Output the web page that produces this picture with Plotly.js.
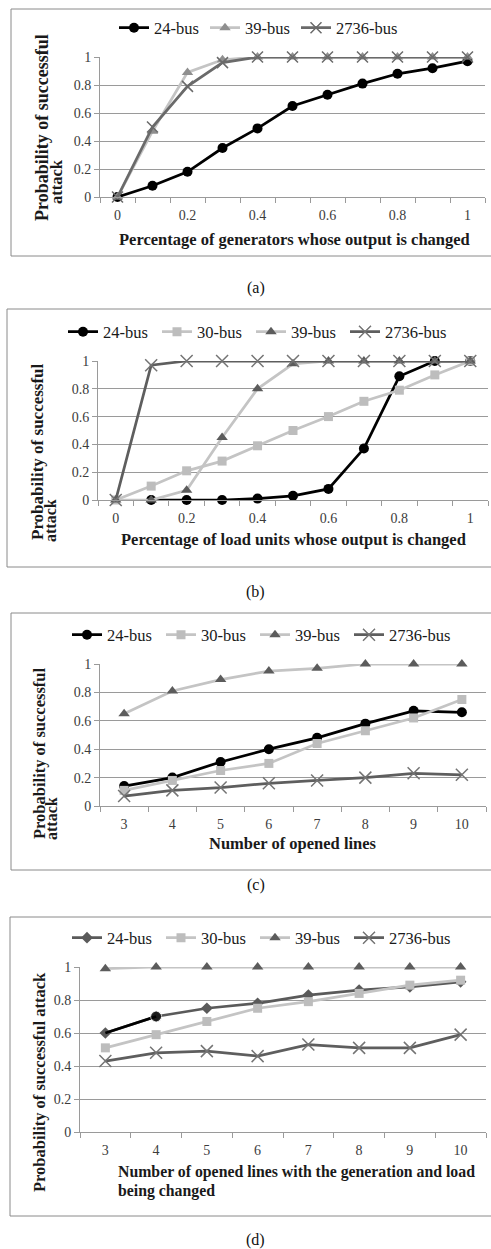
<!DOCTYPE html>
<html><head><meta charset="utf-8">
<script src="https://cdn.plot.ly/plotly-3.0.1.min.js"></script>
<style>html,body{margin:0;padding:0;background:#fff}#chart{width:491px;height:1249px}</style>
</head><body><div id="chart"></div>
<script>
// ---------------- DATA ----------------
const xPct = [0, 0.1, 0.2, 0.3, 0.4, 0.5, 0.6, 0.7, 0.8, 0.9, 1];
const xPctTicks = [0, 0.2, 0.4, 0.6, 0.8, 1];
const xLines = [3, 4, 5, 6, 7, 8, 9, 10];
const yTicks = [0, 0.2, 0.4, 0.6, 0.8, 1];
const seriesNames = ['24-bus', '30-bus', '39-bus', '2736-bus'];

const a_bus24   = [0, 0.08, 0.18, 0.35, 0.49, 0.65, 0.73, 0.81, 0.88, 0.92, 0.97];
const a_bus39   = [0, 0.47, 0.89, 0.98, 1, 1, 1, 1, 1, 1, 1];
const a_bus2736 = [0, 0.50, 0.79, 0.96, 1, 1, 1, 1, 1, 1, 1];

const b_bus24   = [null, 0, 0, 0, 0.01, 0.03, 0.08, 0.37, 0.89, 1, 1];
const b_bus30   = [0, 0.10, 0.21, 0.28, 0.39, 0.50, 0.60, 0.71, 0.79, 0.90, 1];
const b_bus39   = [0, 0, 0.07, 0.45, 0.80, 0.98, 1, 1, 1, 1, 1];
const b_bus2736 = [0, 0.97, 1, 1, 1, 1, 1, 1, 1, 1, 1];

const c_bus24   = [0.14, 0.20, 0.31, 0.40, 0.48, 0.58, 0.67, 0.66];
const c_bus30   = [0.11, 0.18, 0.25, 0.30, 0.44, 0.53, 0.62, 0.75];
const c_bus39   = [0.65, 0.81, 0.89, 0.95, 0.97, 1, 1, 1];
const c_bus2736 = [0.07, 0.11, 0.13, 0.16, 0.18, 0.20, 0.23, 0.22];

const d_bus24   = [0.60, 0.70, 0.75, 0.78, 0.83, 0.86, 0.88, 0.91];
const d_bus30   = [0.51, 0.59, 0.67, 0.75, 0.79, 0.84, 0.89, 0.92];
const d_bus39   = [0.99, 1, 1, 1, 1, 1, 1, 1];
const d_bus2736 = [0.43, 0.48, 0.49, 0.46, 0.53, 0.51, 0.51, 0.59];

const xTitles = [
  'Percentage of generators whose output is changed',
  'Percentage of load units whose output is changed',
  'Number of opened lines',
  ['Number of opened lines with the generation and load', 'being changed']
];
const yTitleLine1 = 'Probability of successful';
const yTitleLine2 = 'attack';
const yTitleFull = 'Probability of successful attack';
const captions = ['(a)', '(b)', '(c)', '(d)'];

// ---------------- HELPERS / STYLES ----------------
const W = 491, H = 1249;
const FONT = '"Liberation Serif", "Times New Roman", Times, serif';
const px = v => v / W;
const py = v => 1 - v / H;
const GRID = '#9a9a9a';

const sBlack = {line: {color: '#000000', width: 2.75}, marker: {symbol: 'circle', size: 10, color: '#000000'}};
const sTriA  = {line: {color: '#c4c4c4', width: 2.75}, marker: {symbol: 'triangle-up', size: 10, color: '#8f8f8f'}};
const sXA    = {line: {color: '#6a6a6a', width: 2.75}, marker: {symbol: 'x-thin', size: 11, color: '#6a6a6a', line: {color: '#6a6a6a', width: 1.5}}};
const sSq    = {line: {color: '#c4c4c4', width: 2.75}, marker: {symbol: 'square', size: 9, color: '#bdbdbd'}};
const sTriD  = {line: {color: '#c4c4c4', width: 2.75}, marker: {symbol: 'triangle-up', size: 10, color: '#5c5c5c'}};
const sXD    = {line: {color: '#5e5e5e', width: 2.75}, marker: {symbol: 'x-thin', size: 12, color: '#747474', line: {color: '#747474', width: 1.5}}};
const sDia   = {line: {color: '#5a5a5a', width: 2.75}, marker: {symbol: 'diamond', size: 9, color: '#5a5a5a'}};

function tr(name, x, y, st, axIdx, legendId, extra) {
  const sfx = axIdx === 1 ? '' : String(axIdx);
  return Object.assign({
    type: 'scatter', mode: 'lines+markers', name: name, x: x, y: y,
    xaxis: 'x' + sfx, yaxis: 'y' + sfx, legend: legendId,
    line: st.line, marker: st.marker, cliponaxis: false, connectgaps: false,
    hoverinfo: 'skip'
  }, extra || {});
}
const lastW = {legendwidth: 70};

const traces = [
  tr(seriesNames[0], xPct, a_bus24, sBlack, 1, 'legend'),
  tr(seriesNames[2], xPct, a_bus39, sTriA, 1, 'legend'),
  tr(seriesNames[3], xPct, a_bus2736, sXA, 1, 'legend', lastW),

  tr(seriesNames[0], xPct, b_bus24, sBlack, 2, 'legend2'),
  tr(seriesNames[1], xPct, b_bus30, sSq, 2, 'legend2'),
  tr(seriesNames[2], xPct, b_bus39, sTriD, 2, 'legend2'),
  tr(seriesNames[3], xPct, b_bus2736, sXD, 2, 'legend2', lastW),

  tr(seriesNames[0], xLines, c_bus24, sBlack, 3, 'legend3'),
  tr(seriesNames[1], xLines, c_bus30, sSq, 3, 'legend3'),
  tr(seriesNames[2], xLines, c_bus39, sTriD, 3, 'legend3'),
  tr(seriesNames[3], xLines, c_bus2736, sXD, 3, 'legend3', lastW),

  tr(seriesNames[0], xLines, d_bus24, sDia, 4, 'legend4'),
  tr(seriesNames[0], xLines.slice(0, 2), d_bus24.slice(0, 2),
     {line: {color: '#000000', width: 2.75}, marker: {symbol: 'circle', size: [0, 11], color: '#000000'}},
     4, 'legend4', {showlegend: false}),
  tr(seriesNames[1], xLines, d_bus30, sSq, 4, 'legend4'),
  tr(seriesNames[2], xLines, d_bus39, sTriD, 4, 'legend4'),
  tr(seriesNames[3], xLines, d_bus2736, sXD, 4, 'legend4', lastW)
];

// panel geometry (pixels)
const P = [
  {l: 100, r: 485, t: 57,  b: 197,  range: [-0.05, 1.05], ticks: xPctTicks, m0: -0.05, md: 0.1},
  {l: 98,  r: 488, t: 361, b: 500,  range: [-0.05, 1.05], ticks: xPctTicks, m0: -0.05, md: 0.1},
  {l: 100, r: 486, t: 664, b: 806,  range: [2.5, 10.5],   ticks: xLines,    m0: 2.5,   md: 1},
  {l: 80,  r: 486, t: 967, b: 1132, range: [2.5, 10.5],   ticks: xLines,    m0: 2.5,   md: 1}
];

const layout = {
  width: W, height: H, autosize: false,
  margin: {l: 0, r: 0, t: 0, b: 0, pad: 0},
  paper_bgcolor: '#ffffff', plot_bgcolor: 'rgba(0,0,0,0)',
  showlegend: true, hovermode: false,
  font: {family: FONT, color: '#1a1a1a', size: 14},
  shapes: [], annotations: []
};

P.forEach((p, i) => {
  const sfx = i === 0 ? '' : String(i + 1);
  layout['xaxis' + sfx] = {
    domain: [px(p.l), px(p.r)], range: p.range, anchor: 'y' + sfx,
    tickmode: 'array', tickvals: p.ticks, ticks: 'outside', ticklen: 5,
    tickcolor: 'rgba(0,0,0,0)', showgrid: false, zeroline: false,
    showline: true, linecolor: GRID, linewidth: 1,
    tickfont: {family: FONT, size: 14, color: '#3c3c3c'},
    minor: {ticks: 'outside', ticklen: 5, tickcolor: GRID, tickwidth: 1,
            tickmode: 'linear', tick0: p.m0, dtick: p.md, showgrid: false},
    fixedrange: true
  };
  layout['yaxis' + sfx] = {
    domain: [py(p.b), py(p.t)], range: [0, 1], anchor: 'x' + sfx,
    tickmode: 'array', tickvals: yTicks, ticks: 'outside', ticklen: 5,
    tickcolor: GRID, showgrid: true, gridcolor: GRID, gridwidth: 1,
    zeroline: false, showline: true, linecolor: GRID, linewidth: 1,
    tickfont: {family: FONT, size: 14, color: '#3c3c3c'}, fixedrange: true
  };
});

// legends
function leg(x, y, ew) {
  return {orientation: 'h', xanchor: 'left', yanchor: 'middle', bgcolor: 'rgba(0,0,0,0)',
    font: {family: FONT, size: 16.5, color: '#1a1a1a'}, itemwidth: 30, traceorder: 'normal',
    borderwidth: 0, x: px(x), y: py(y), entrywidth: ew, entrywidthmode: 'pixels'};
}
layout.legend  = leg(114, 28, 46);
layout.legend2 = leg(63, 332, 49);
layout.legend3 = leg(67, 635, 49);
layout.legend4 = leg(67, 938, 49);

// panel frames
const frames = [[11, 9, 256], [7, 309, 567], [11, 613, 870], [10, 917, 1216]];
frames.forEach(f => layout.shapes.push({type: 'rect', xref: 'paper', yref: 'paper',
  x0: px(f[0]), x1: px(W + 10), y0: py(f[2]), y1: py(f[1]), line: {color: '#8a8a8a', width: 1}, layer: 'below'}));

function ann(text, x, y, o) {
  return Object.assign({text: text, x: px(x), y: py(y), xref: 'paper', yref: 'paper',
    showarrow: false, xanchor: 'center', yanchor: 'middle',
    font: {family: FONT, size: 16.5, color: '#1a1a1a'}}, o || {});
}
const A = layout.annotations;
// captions
[288, 592, 885, 1240].forEach((cy, i) => A.push(ann(captions[i], 256, cy, {font: {family: FONT, size: 16, color: '#111'}})));
// x titles
A.push(ann('<b>' + xTitles[0] + '</b>', 294, 239));
A.push(ann('<b>' + xTitles[1] + '</b>', 293, 539));
A.push(ann('<b>' + xTitles[2] + '</b>', 293, 843));
A.push(ann('<b>' + xTitles[3][0] + '</b>', 116, 1172, {xanchor: 'left', font: {family: FONT, size: 15.8, color: '#1a1a1a'}}));
A.push(ann('<b>' + xTitles[3][1] + '</b>', 116, 1191, {xanchor: 'left', font: {family: FONT, size: 15.8, color: '#1a1a1a'}}));
// y titles
A.push(ann('<b>' + yTitleLine1 + '</b>', 42, 128, {textangle: -90, font: {family: FONT, size: 18, color: '#1a1a1a'}}));
A.push(ann('<b>' + yTitleLine2 + '</b>', 57, 182, {textangle: -90, font: {family: FONT, size: 16.5, color: '#1a1a1a'}}));
A.push(ann('<b>' + yTitleLine1 + '</b>', 37, 452, {textangle: -90, font: {family: FONT, size: 17, color: '#1a1a1a'}}));
A.push(ann('<b>' + yTitleLine2 + '</b>', 50, 521, {textangle: -90, font: {family: FONT, size: 16, color: '#1a1a1a'}}));
A.push(ann('<b>' + yTitleLine1 + '</b>', 39, 753, {textangle: -90, font: {family: FONT, size: 16.5, color: '#1a1a1a'}}));
A.push(ann('<b>' + yTitleLine2 + '</b>', 51, 819, {textangle: -90, font: {family: FONT, size: 16, color: '#1a1a1a'}}));
A.push(ann('<b>' + yTitleFull + '</b>', 39, 1082, {textangle: -90, font: {family: FONT, size: 16.5, color: '#1a1a1a'}}));

Plotly.newPlot('chart', traces, layout, {staticPlot: true, displayModeBar: false});
</script>
</body></html>
